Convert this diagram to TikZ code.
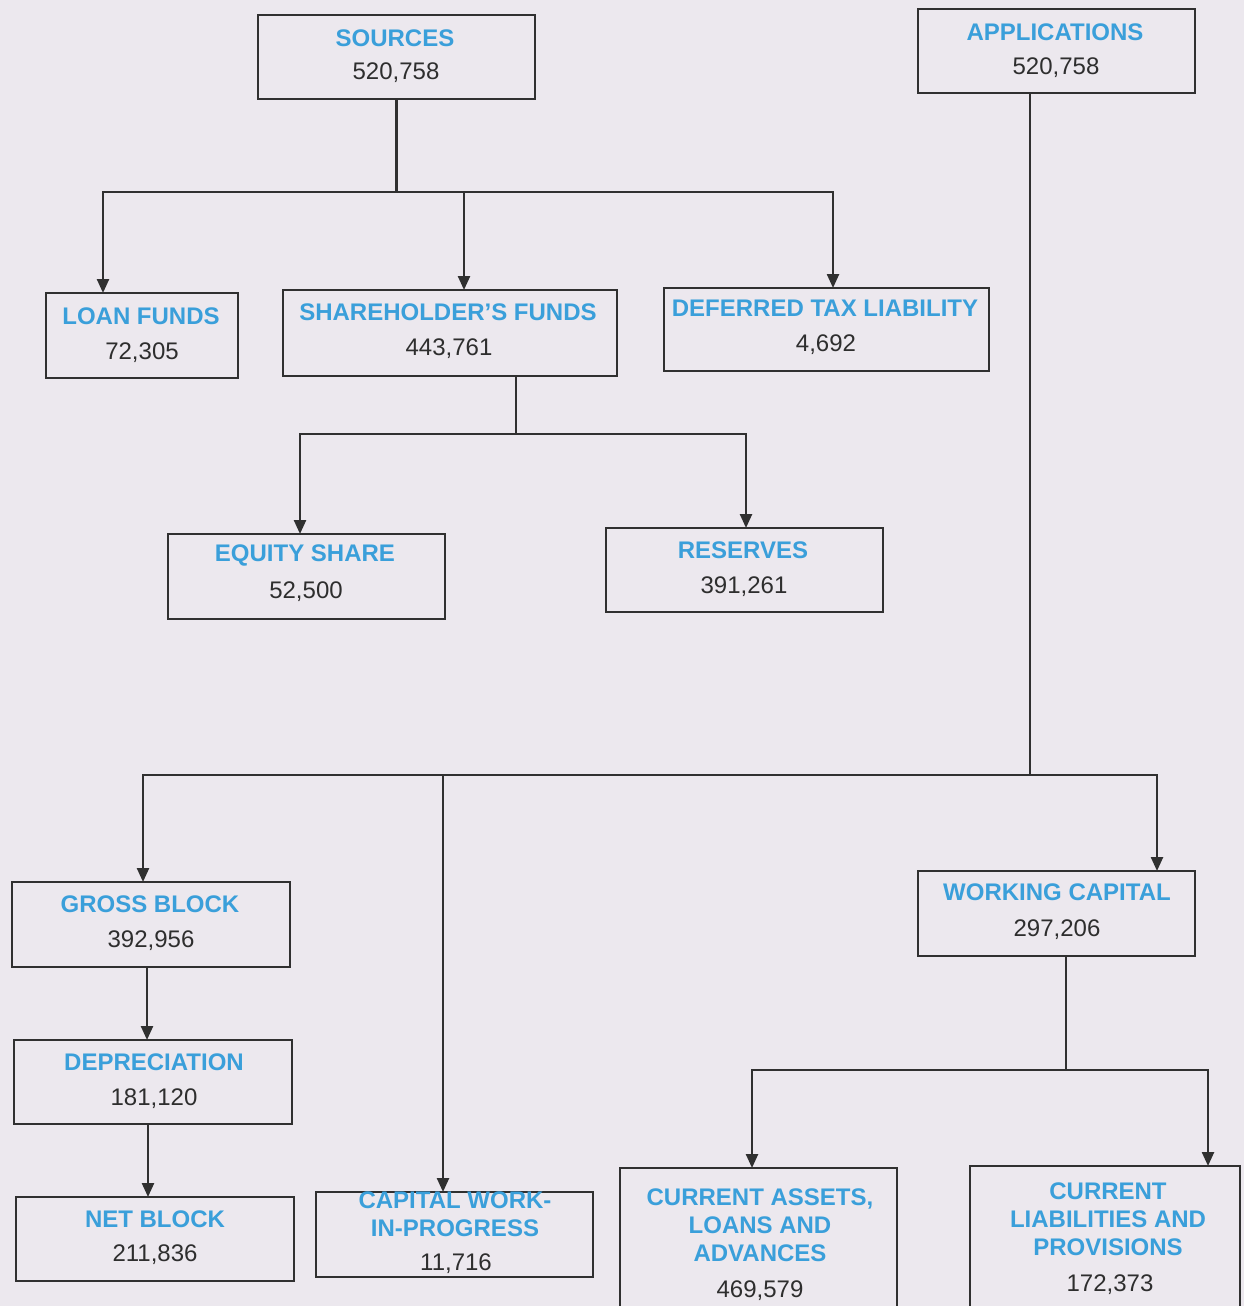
\documentclass[tikz,border=0pt]{standalone}
\usepackage{fontspec}
\setmainfont{Liberation Sans}
\usetikzlibrary{arrows.meta}
\definecolor{bg}{HTML}{ECE8EE}
\definecolor{ttl}{HTML}{3A9FDA}
\definecolor{num}{HTML}{2E2E2E}
\definecolor{ink}{HTML}{303030}
\begin{document}
\begin{tikzpicture}[x=0.5pt,y=-0.5pt,
  box/.style={draw=ink, line width=1.2pt, inner sep=0pt, outer sep=0pt},
  ttltext/.style={font=\bfseries\fontsize{12}{14}\selectfont, text=ttl, align=center, inner sep=0pt},
  numtext/.style={font=\fontsize{12}{14}\selectfont, text=num, inner sep=0pt, text depth=0pt},
  ln/.style={draw=ink, line width=1.2pt},
  arr/.style={ln, -{Triangle[length=7pt,width=6pt]}}]
\fill[bg] (0,0) rectangle (1244,1306);
\useasboundingbox (0,0) rectangle (1244,1306);
\clip (0,0) rectangle (1244,1306);

% boxes
\node[box, minimum width=138.5pt, minimum height=42pt]   (src)   at (396.5,57) {};
\node[box, minimum width=138.5pt, minimum height=42pt]   (app)   at (1056.5,51) {};
\node[box, minimum width=96pt,    minimum height=42.5pt] (loan)  at (142,335.5) {};
\node[box, minimum width=167pt,   minimum height=43pt]   (share) at (450,333) {};
\node[box, minimum width=162.5pt, minimum height=41.5pt] (def)   at (826.5,329.5) {};
\node[box, minimum width=138.5pt, minimum height=42.5pt] (eq)    at (306.5,576.5) {};
\node[box, minimum width=138.5pt, minimum height=42pt]   (res)   at (744.5,570) {};
\node[box, minimum width=139pt,   minimum height=42.5pt] (gross) at (151,924.5) {};
\node[box, minimum width=138.5pt, minimum height=42.5pt] (wc)    at (1056.5,913.5) {};
\node[box, minimum width=139pt,   minimum height=42pt]   (dep)   at (153,1082) {};
\node[box, minimum width=139pt,   minimum height=42pt]   (net)   at (155,1239) {};
\node[box, minimum width=138.5pt, minimum height=42.5pt] (wip)   at (454.5,1234.5) {};
\node[box, minimum width=138.5pt, minimum height=81pt]   (ca)    at (758.5,1249) {};
\node[box, minimum width=135pt,   minimum height=82pt]   (cl)    at (1105,1248) {};

% texts
\node[ttltext] (srcT) at (395,38) {SOURCES};
\node[numtext] (srcN) at (396,71) {520,758};
\node[ttltext] (appT) at (1055,32) {APPLICATIONS};
\node[numtext] (appN) at (1056,66) {520,758};
\node[ttltext] (loanT) at (141,316) {LOAN FUNDS};
\node[numtext] (loanN) at (142,351) {72,305};
\node[ttltext] (shareT) at (448,312) {SHAREHOLDER{\char"0027}S FUNDS};
\node[numtext] (shareN) at (449,347) {443,761};
\node[ttltext] (defT) at (825,308) {DEFERRED TAX LIABILITY};
\node[numtext] (defN) at (826,343) {4,692};
\node[ttltext] (eqT) at (305,555) {EQUITY SHARE};
\node[numtext] (eqN) at (306,590) {52,500};
\node[ttltext] (resT) at (743,550) {RESERVES};
\node[numtext] (resN) at (744,585) {391,261};
\node[ttltext] (grossT) at (150,904) {GROSS BLOCK};
\node[numtext] (grossN) at (151,939) {392,956};
\node[ttltext] (wcT) at (1057,892) {WORKING CAPITAL};
\node[numtext] (wcN) at (1057,928) {297,206};
\node[ttltext] (depT) at (154,1062) {DEPRECIATION};
\node[numtext] (depN) at (154,1097) {181,120};
\node[ttltext] (netT) at (155,1219) {NET BLOCK};
\node[numtext] (netN) at (155,1253) {211,836};
\node[ttltext] (wipT) at (455,1214) {CAPITAL WORK-\\IN-PROGRESS};
\node[numtext] (wipN) at (456,1262) {11,716};
\node[ttltext] (caT) at (760,1225) {CURRENT ASSETS,\\LOANS AND\\ADVANCES};
\node[numtext] (caN) at (760,1289) {469,579};
\node[ttltext] (clT) at (1108,1219) {CURRENT\\LIABILITIES AND\\PROVISIONS};
\node[numtext] (clN) at (1110,1283) {172,373};

% junctions and arrow targets
\coordinate (sj) at (396.5,192);
\coordinate (tL) at (103,293);
\coordinate (tS) at (464,290);
\coordinate (tD) at (833,288);
\coordinate (shj) at (516,434);
\coordinate (tE) at (300,534);
\coordinate (tR) at (746,528);
\coordinate (aj) at (1030,775);
\coordinate (tG) at (143,882);
\coordinate (tP) at (443,1192);
\coordinate (tW) at (1157,871);
\coordinate (xg) at (147,0);
\coordinate (xd) at (148,0);
\coordinate (wj) at (1066,1070);
\coordinate (tCA) at (752,1168);
\coordinate (tCL) at (1208,1166);

% connectors
\draw[ln] (src.south) -- (sj);
\draw[arr] (sj) -| (tL);
\draw[arr] (sj) -| (tS);
\draw[arr] (sj) -| (tD);

\draw[ln] (shj |- share.south) -- (shj);
\draw[arr] (shj) -| (tE);
\draw[arr] (shj) -| (tR);

\draw[ln] (aj |- app.south) -- (aj);
\draw[arr] (aj) -| (tG);
\draw[arr] (aj) -| (tP);
\draw[arr] (aj) -| (tW);

\draw[arr] (gross.south -| xg) -- (dep.north -| xg);
\draw[arr] (dep.south -| xd) -- (net.north -| xd);

\draw[ln] (wj |- wc.south) -- (wj);
\draw[arr] (wj) -| (tCA);
\draw[arr] (wj) -| (tCL);
\end{tikzpicture}
\end{document}
